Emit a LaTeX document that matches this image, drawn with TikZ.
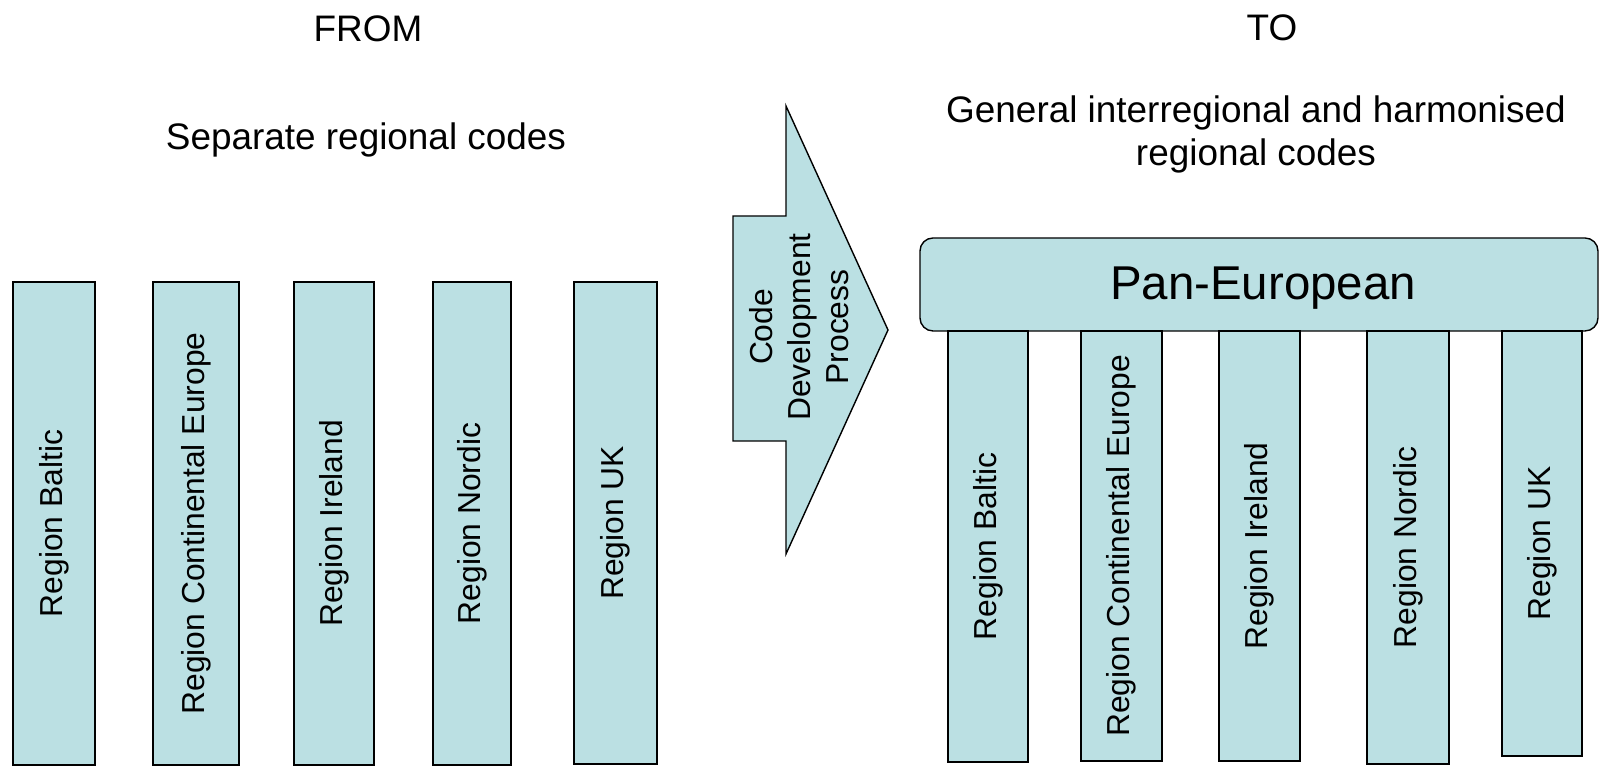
\documentclass[tikz,border=0pt]{standalone}
\usepackage{fontspec}
\setmainfont{Liberation Sans}
\usepackage{tikz}
\definecolor{codeblue}{RGB}{187,224,227}
\tikzset{
	codebox/.style={draw=black, line width=0.4pt, fill=codeblue},
	regionlabel/.style={rotate=90, font=\fontsize{9.05}{10.8}\selectfont},
	headlabel/.style={font=\fontsize{10.5}{12.2}\selectfont, align=center}
}

\begin{document}
\begin{tikzpicture}
			%%%%% START %%%%%
			\useasboundingbox (0, 0) rectangle (16.01, 7.66);
			
			\node[headlabel] (from) at (3.68, 7.37) {FROM};
			\node[headlabel] (to) at (12.72, 7.38) {TO};
			\node[headlabel] (separate) at (3.66, 6.26) {Separate regional codes};
			\node[headlabel] (general) at (12.56, 6.315) {General interregional and harmonised\\regional codes};
			
			\draw[codebox] (0.13, 0.01) rectangle (0.95, 4.84);
			\node[regionlabel] (lbaltic) at (0.54, 2.425) {Region Baltic};
			\draw[codebox] (1.53, 0.01) rectangle (2.39, 4.84);
			\node[regionlabel] (lcontinental) at (1.96, 2.425) {Region Continental Europe};
			\draw[codebox] (2.94, 0.01) rectangle (3.74, 4.84);
			\node[regionlabel] (lireland) at (3.34, 2.425) {Region Ireland};
			\draw[codebox] (4.33, 0.01) rectangle (5.11, 4.84);
			\node[regionlabel] (lnordic) at (4.72, 2.425) {Region Nordic};
			\draw[codebox] (5.74, 0.02) rectangle (6.57, 4.84);
			\node[regionlabel] (luk) at (6.155, 2.43) {Region UK};
			
			\draw[codebox] (7.33, 5.50) -- (7.86, 5.50) -- (7.86, 6.60) -- (8.88, 4.36) -- (7.86, 2.12) -- (7.86, 3.25) -- (7.33, 3.25) -- cycle;
			\node[regionlabel, align=center] (process) at (7.99, 4.39) {Code\\Development\\Process};
			
			\draw[codebox, rounded corners=0.13cm] (9.20, 4.35) rectangle (15.98, 5.28);
			\node[font=\fontsize{13.5}{16}\selectfont] (paneuropean) at (12.63, 4.78) {Pan-European};
			
			\draw[codebox] (9.48, 0.04) rectangle (10.28, 4.35);
			\node[regionlabel] (rbaltic) at (9.88, 2.195) {Region Baltic};
			\draw[codebox] (10.81, 0.05) rectangle (11.62, 4.35);
			\node[regionlabel] (rcontinental) at (11.215, 2.2) {Region Continental Europe};
			\draw[codebox] (12.19, 0.05) rectangle (13.00, 4.35);
			\node[regionlabel] (rireland) at (12.595, 2.2) {Region Ireland};
			\draw[codebox] (13.67, 0.02) rectangle (14.49, 4.35);
			\node[regionlabel] (rnordic) at (14.08, 2.185) {Region Nordic};
			\draw[codebox] (15.02, 0.10) rectangle (15.82, 4.35);
			\node[regionlabel] (ruk) at (15.42, 2.225) {Region UK};
			
			%%%%% END %%%%%
		\end{tikzpicture}
\end{document}
